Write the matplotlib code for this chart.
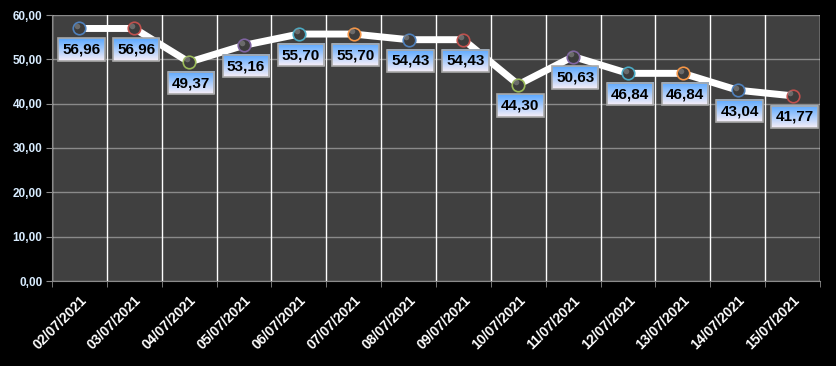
import matplotlib
matplotlib.use("Agg")
import matplotlib.pyplot as plt
import numpy as np

dates = ["02/07/2021", "03/07/2021", "04/07/2021", "05/07/2021", "06/07/2021",
         "07/07/2021", "08/07/2021", "09/07/2021", "10/07/2021", "11/07/2021",
         "12/07/2021", "13/07/2021", "14/07/2021", "15/07/2021"]
values = [56.96, 56.96, 49.37, 53.16, 55.70, 55.70, 54.43, 54.43,
          44.30, 50.63, 46.84, 46.84, 43.04, 41.77]
y_ticks = [0, 10, 20, 30, 40, 50, 60]
marker_edges = ["#4F81BD", "#C0504D", "#9BBB59", "#8064A2", "#4BACC6", "#F79646"]

FONT = "Liberation Sans"
W, H = 837, 366
fig = plt.figure(figsize=(W / 100, H / 100), dpi=100, facecolor="black")
ax = fig.add_axes([52 / W, 1 - 281 / H, 768 / W, 266 / H])
ax.set_facecolor("#404040")

n = len(values)
x = np.arange(n)
ax.set_xlim(-0.5, n - 0.5)
ax.set_ylim(0, 60)

# grid
for yv in y_ticks:
    ax.axhline(yv, color="#8a8a8a", lw=1, zorder=1)
for b in np.arange(n + 1) - 0.5:
    ax.axvline(b, color="white", lw=1, zorder=1)

ax.plot(x, values, color="white", lw=5, solid_joinstyle="round", zorder=3)
for i, v in enumerate(values):
    ax.plot(i, v, marker="o", ms=9, mfc="#3c3c3c", mec=marker_edges[i % 6], mew=1.2, zorder=4)
    ax.plot(i - 0.04, v + 0.6, marker="o", ms=4, mfc="#8a8a8a", mec="none", alpha=0.6, zorder=4.5)

texts = []
for i, v in enumerate(values):
    t = ax.annotate(f"{v:.2f}".replace(".", ","), (i, v), xytext=(2, -21),
                    textcoords="offset pixels", ha="center", va="center",
                    fontsize=11, fontweight="bold", family=FONT, color="black", zorder=7,
                    bbox=dict(boxstyle="square,pad=0.27", fc="none", ec="#a8a8a8", lw=1.2))
    texts.append(t)

ax.set_yticks(y_ticks)
ax.set_yticklabels([f"{t:.2f}".replace(".", ",") for t in y_ticks],
                   color="#d8ecff", fontsize=8.5, fontweight="bold", family=FONT)
ax.set_xticks(x)
ax.set_xticklabels(dates, rotation=45, ha="right", rotation_mode="anchor",
                   color="white", fontsize=10, fontweight="bold", family=FONT)
ax.tick_params(axis="x", length=0, pad=9)
ax.set_xticks(np.arange(n + 1) - 0.5, minor=True)
ax.tick_params(axis="x", which="minor", length=4, color="#8a8a8a")
ax.tick_params(axis="y", length=4, color="#8a8a8a", pad=3)
for s in ax.spines.values():
    s.set_color("#8a8a8a")
ax.spines["top"].set_visible(False)
ax.spines["right"].set_visible(False)

# gradient fills behind label boxes
fig.canvas.draw()
renderer = fig.canvas.get_renderer()
top = np.array([0x5a, 0xa8, 0xff]) / 255
bot = np.array([0xf6, 0xee, 0xf8]) / 255
tt = np.linspace(0, 1, 32)[:, None]
grad = (top[None, :] * (1 - tt) + bot[None, :] * tt)[:, None, :]
inv = ax.transData.inverted()
for t in texts:
    bb = t.get_bbox_patch().get_window_extent(renderer)
    (x0, y0), (x1, y1) = inv.transform([(bb.x0, bb.y0), (bb.x1, bb.y1)])
    ax.imshow(grad, extent=(x0, x1, y0, y1), aspect="auto", origin="upper",
              zorder=6, interpolation="bilinear")
ax.set_xlim(-0.5, n - 0.5)
ax.set_ylim(0, 60)

fig.savefig("out.png", dpi=100, facecolor="black")
